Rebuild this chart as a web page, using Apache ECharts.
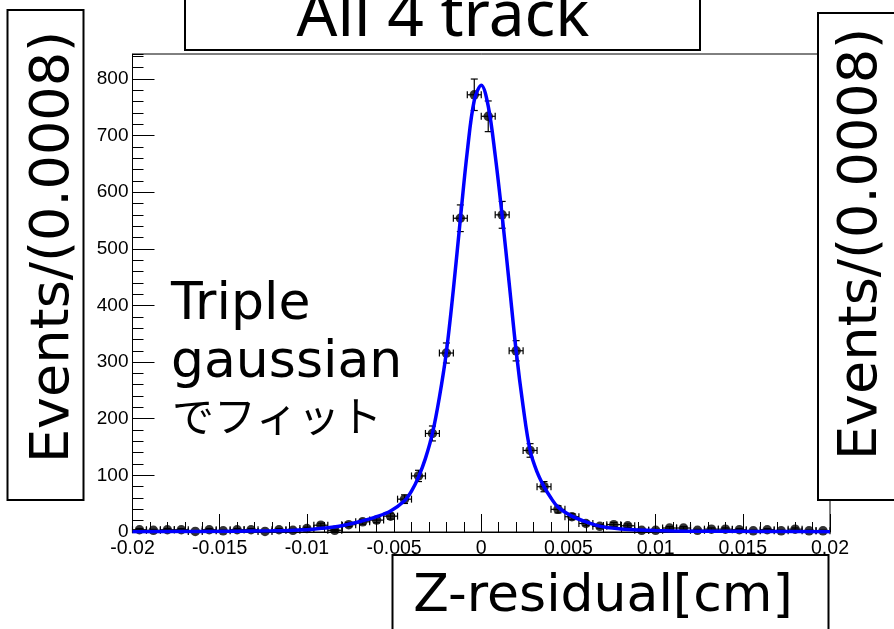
<!DOCTYPE html>
<html>
<head>
<meta charset="utf-8">
<script src="https://cdn.jsdelivr.net/npm/echarts@6/dist/echarts.min.js"></script>
<style>
  html, body { margin: 0; padding: 0; background: #fff; }
  #chart { width: 894px; height: 629px; }
</style>
</head>
<body>
<div id="chart"></div>
<script>
// Histogram of Z residuals, 50 bins of width 0.0008 cm
const binCenters = [
  -0.0196, -0.0188, -0.0180, -0.0172, -0.0164, -0.0156, -0.0148, -0.0140, -0.0132, -0.0124,
  -0.0116, -0.0108, -0.0100, -0.0092, -0.0084, -0.0076, -0.0068, -0.0060, -0.0052, -0.0044,
  -0.0036, -0.0028, -0.0020, -0.0012, -0.0004, 0.0004, 0.0012, 0.0020, 0.0028, 0.0036,
  0.0044, 0.0052, 0.0060, 0.0068, 0.0076, 0.0084, 0.0092, 0.0100, 0.0108, 0.0116,
  0.0124, 0.0132, 0.0140, 0.0148, 0.0156, 0.0164, 0.0172, 0.0180, 0.0188, 0.0196
];
const counts = [
  4, 3, 4, 4, 1, 4, 2, 4, 4, 1,
  4, 3, 6, 12, 3, 13, 18, 21, 28, 58,
  99, 174, 316, 554, 772, 734, 560, 320, 144, 80,
  40, 27, 15, 10, 13, 11, 3, 3, 7, 7,
  3, 5, 5, 4, 2, 4, 2, 5, 2, 2
];

// Triple-gaussian fit curve, sampled along x
const fitX = [
  -0.0200, -0.0160, -0.0120, -0.0100, -0.0090, -0.0080, -0.0070, -0.0060, -0.0052, -0.0044,
  -0.0040, -0.0036, -0.0032, -0.0028, -0.0024, -0.0020, -0.0016, -0.0012, -0.0008, -0.0004,
  0.0000, 0.0004, 0.0008, 0.0012, 0.0016, 0.0020, 0.0024, 0.0028, 0.0032, 0.0036,
  0.0040, 0.0044, 0.0052, 0.0060, 0.0070, 0.0080, 0.0090, 0.0100, 0.0120, 0.0160, 0.0200
];
const fitY = [
  0.5, 1, 2, 4, 7, 11, 18, 27, 37, 55,
  72, 97, 130, 174, 238, 318, 428, 552, 672, 762,
  789, 752, 665, 558, 440, 320, 222, 144, 106, 80,
  60, 44, 28, 18, 9, 5.5, 3.5, 2.5, 1.5, 1, 0.5
];

const xTickLabels = ['-0.02', '-0.015', '-0.01', '-0.005', '0', '0.005', '0.01', '0.015', '0.02'];
const yTickLabels = ['0', '100', '200', '300', '400', '500', '600', '700', '800'];

const yMax = 844;
const halfBin = 0.0004;
const slideFont = '"DejaVu Sans", "Noto Sans CJK JP", sans-serif';
const cjk = '"Noto Sans CJK JP", sans-serif';
const axisFont = '"Liberation Sans", Arial, sans-serif';

const chart = echarts.init(document.getElementById('chart'), null, { renderer: 'canvas' });

function boxedText(rect, text, cx, cy, font, rotation) {
  return {
    type: 'group',
    children: [
      {
        type: 'rect',
        shape: rect,
        style: { fill: '#fff', stroke: '#000', lineWidth: 2 },
        z: 100
      },
      {
        type: 'text',
        x: cx, y: cy,
        rotation: rotation || 0,
        style: {
          text: text, x: 0, y: 0, fill: '#000', font: font,
          align: 'center', verticalAlign: 'middle',
          textAlign: 'center', textVerticalAlign: 'middle'
        },
        z: 101
      }
    ]
  };
}

function plainText(x, y, text, font) {
  return {
    type: 'text', x: x, y: y,
    style: {
      text: text, fill: '#000', font: font,
      align: 'left', verticalAlign: 'middle', textAlign: 'left', textVerticalAlign: 'middle'
    },
    z: 50
  };
}

const option = {
  animation: false,
  backgroundColor: '#fff',
  grid: {
    left: 132.5, right: 64, top: 54, bottom: 97,
    show: true, borderColor: '#000', borderWidth: 1, backgroundColor: 'transparent'
  },
  xAxis: {
    type: 'value', min: -0.02, max: 0.02, interval: 0.005,
    axisLine: { show: true, onZero: false, lineStyle: { color: '#000', width: 1 } },
    axisTick: { show: true, inside: true, length: 18, lineStyle: { color: '#000', width: 1 } },
    minorTick: { show: true, splitNumber: 5, length: 10, lineStyle: { color: '#000', width: 1 } },
    splitLine: { show: false },
    axisLabel: {
      color: '#000', fontFamily: axisFont, fontSize: 19.5, margin: 7,
      formatter: v => xTickLabels[Math.round((v + 0.02) / 0.005)]
    }
  },
  yAxis: [
    {
      type: 'value', min: 0, max: yMax, interval: 100, position: 'left',
      axisLine: { show: true, onZero: false, lineStyle: { color: '#000', width: 1 } },
      axisTick: { show: true, inside: true, length: 22, lineStyle: { color: '#000', width: 1 } },
      splitLine: { show: false },
      axisLabel: {
        color: '#000', fontFamily: axisFont, fontSize: 19, margin: 4, showMaxLabel: false,
        formatter: v => (v % 100 === 0 ? yTickLabels[v / 100] : '')
      }
    },
    {
      type: 'value', min: 0, max: yMax, interval: 20, position: 'left',
      axisLine: { show: false, onZero: false },
      axisTick: { show: true, inside: true, length: 11, lineStyle: { color: '#000', width: 1 } },
      splitLine: { show: false },
      axisLabel: { show: false }
    }
  ],
  series: [
    {
      // statistical error bars with end caps
      type: 'custom',
      z: 2,
      data: binCenters.map((x, i) => [x, counts[i]]),
      renderItem: function (params, api) {
        const x = api.value(0), y = api.value(1);
        const err = Math.sqrt(y);
        const c = api.coord([x, y]);
        const lo = api.coord([x - halfBin, y]);
        const hi = api.coord([x + halfBin, y]);
        const top = api.coord([x, y + err]);
        const bot = api.coord([x, Math.max(0, y - err)]);
        const cap = 3.5;
        const st = { stroke: '#000', lineWidth: 1.2 };
        return {
          type: 'group',
          children: [
            { type: 'line', shape: { x1: lo[0], y1: c[1], x2: hi[0], y2: c[1] }, style: st },
            { type: 'line', shape: { x1: lo[0], y1: c[1] - cap, x2: lo[0], y2: c[1] + cap }, style: st },
            { type: 'line', shape: { x1: hi[0], y1: c[1] - cap, x2: hi[0], y2: c[1] + cap }, style: st },
            { type: 'line', shape: { x1: c[0], y1: top[1], x2: c[0], y2: bot[1] }, style: st },
            { type: 'line', shape: { x1: c[0] - cap, y1: top[1], x2: c[0] + cap, y2: top[1] }, style: st },
            { type: 'line', shape: { x1: c[0] - cap, y1: bot[1], x2: c[0] + cap, y2: bot[1] }, style: st }
          ]
        };
      }
    },
    {
      type: 'scatter',
      z: 3,
      symbol: 'circle',
      symbolSize: 9.5,
      itemStyle: { color: '#000' },
      data: binCenters.map((x, i) => [x, counts[i]])
    },
    {
      type: 'line',
      z: 4,
      smooth: 0.35,
      showSymbol: false,
      lineStyle: { color: '#0000ff', width: 3.5 },
      data: fitX.map((x, i) => [x, fitY[i]])
    }
  ],
  graphic: [
    boxedText({ x: 185, y: -10, width: 515, height: 60 }, 'All 4 track', 443, 18, '64px "Noto Sans", sans-serif'),
    boxedText({ x: 7.5, y: 10, width: 76, height: 490 }, 'Events/(0.0008)', 54, 247, '54px ' + slideFont, Math.PI / 2),
    boxedText({ x: 818, y: 13, width: 90, height: 487 }, 'Events/(0.0008)', 862, 244, '54px ' + slideFont, Math.PI / 2),
    boxedText({ x: 392.5, y: 555, width: 436, height: 90 }, 'Z-residual[cm]', 603, 597, '52px ' + slideFont),
    plainText(171, 305, 'Triple', '52px ' + slideFont),
    plainText(171, 363, 'gaussian', '52px ' + slideFont),
    plainText(172, 416, 'でフィット', '42px ' + cjk)
  ]
};

chart.setOption(option);
</script>
</body>
</html>
